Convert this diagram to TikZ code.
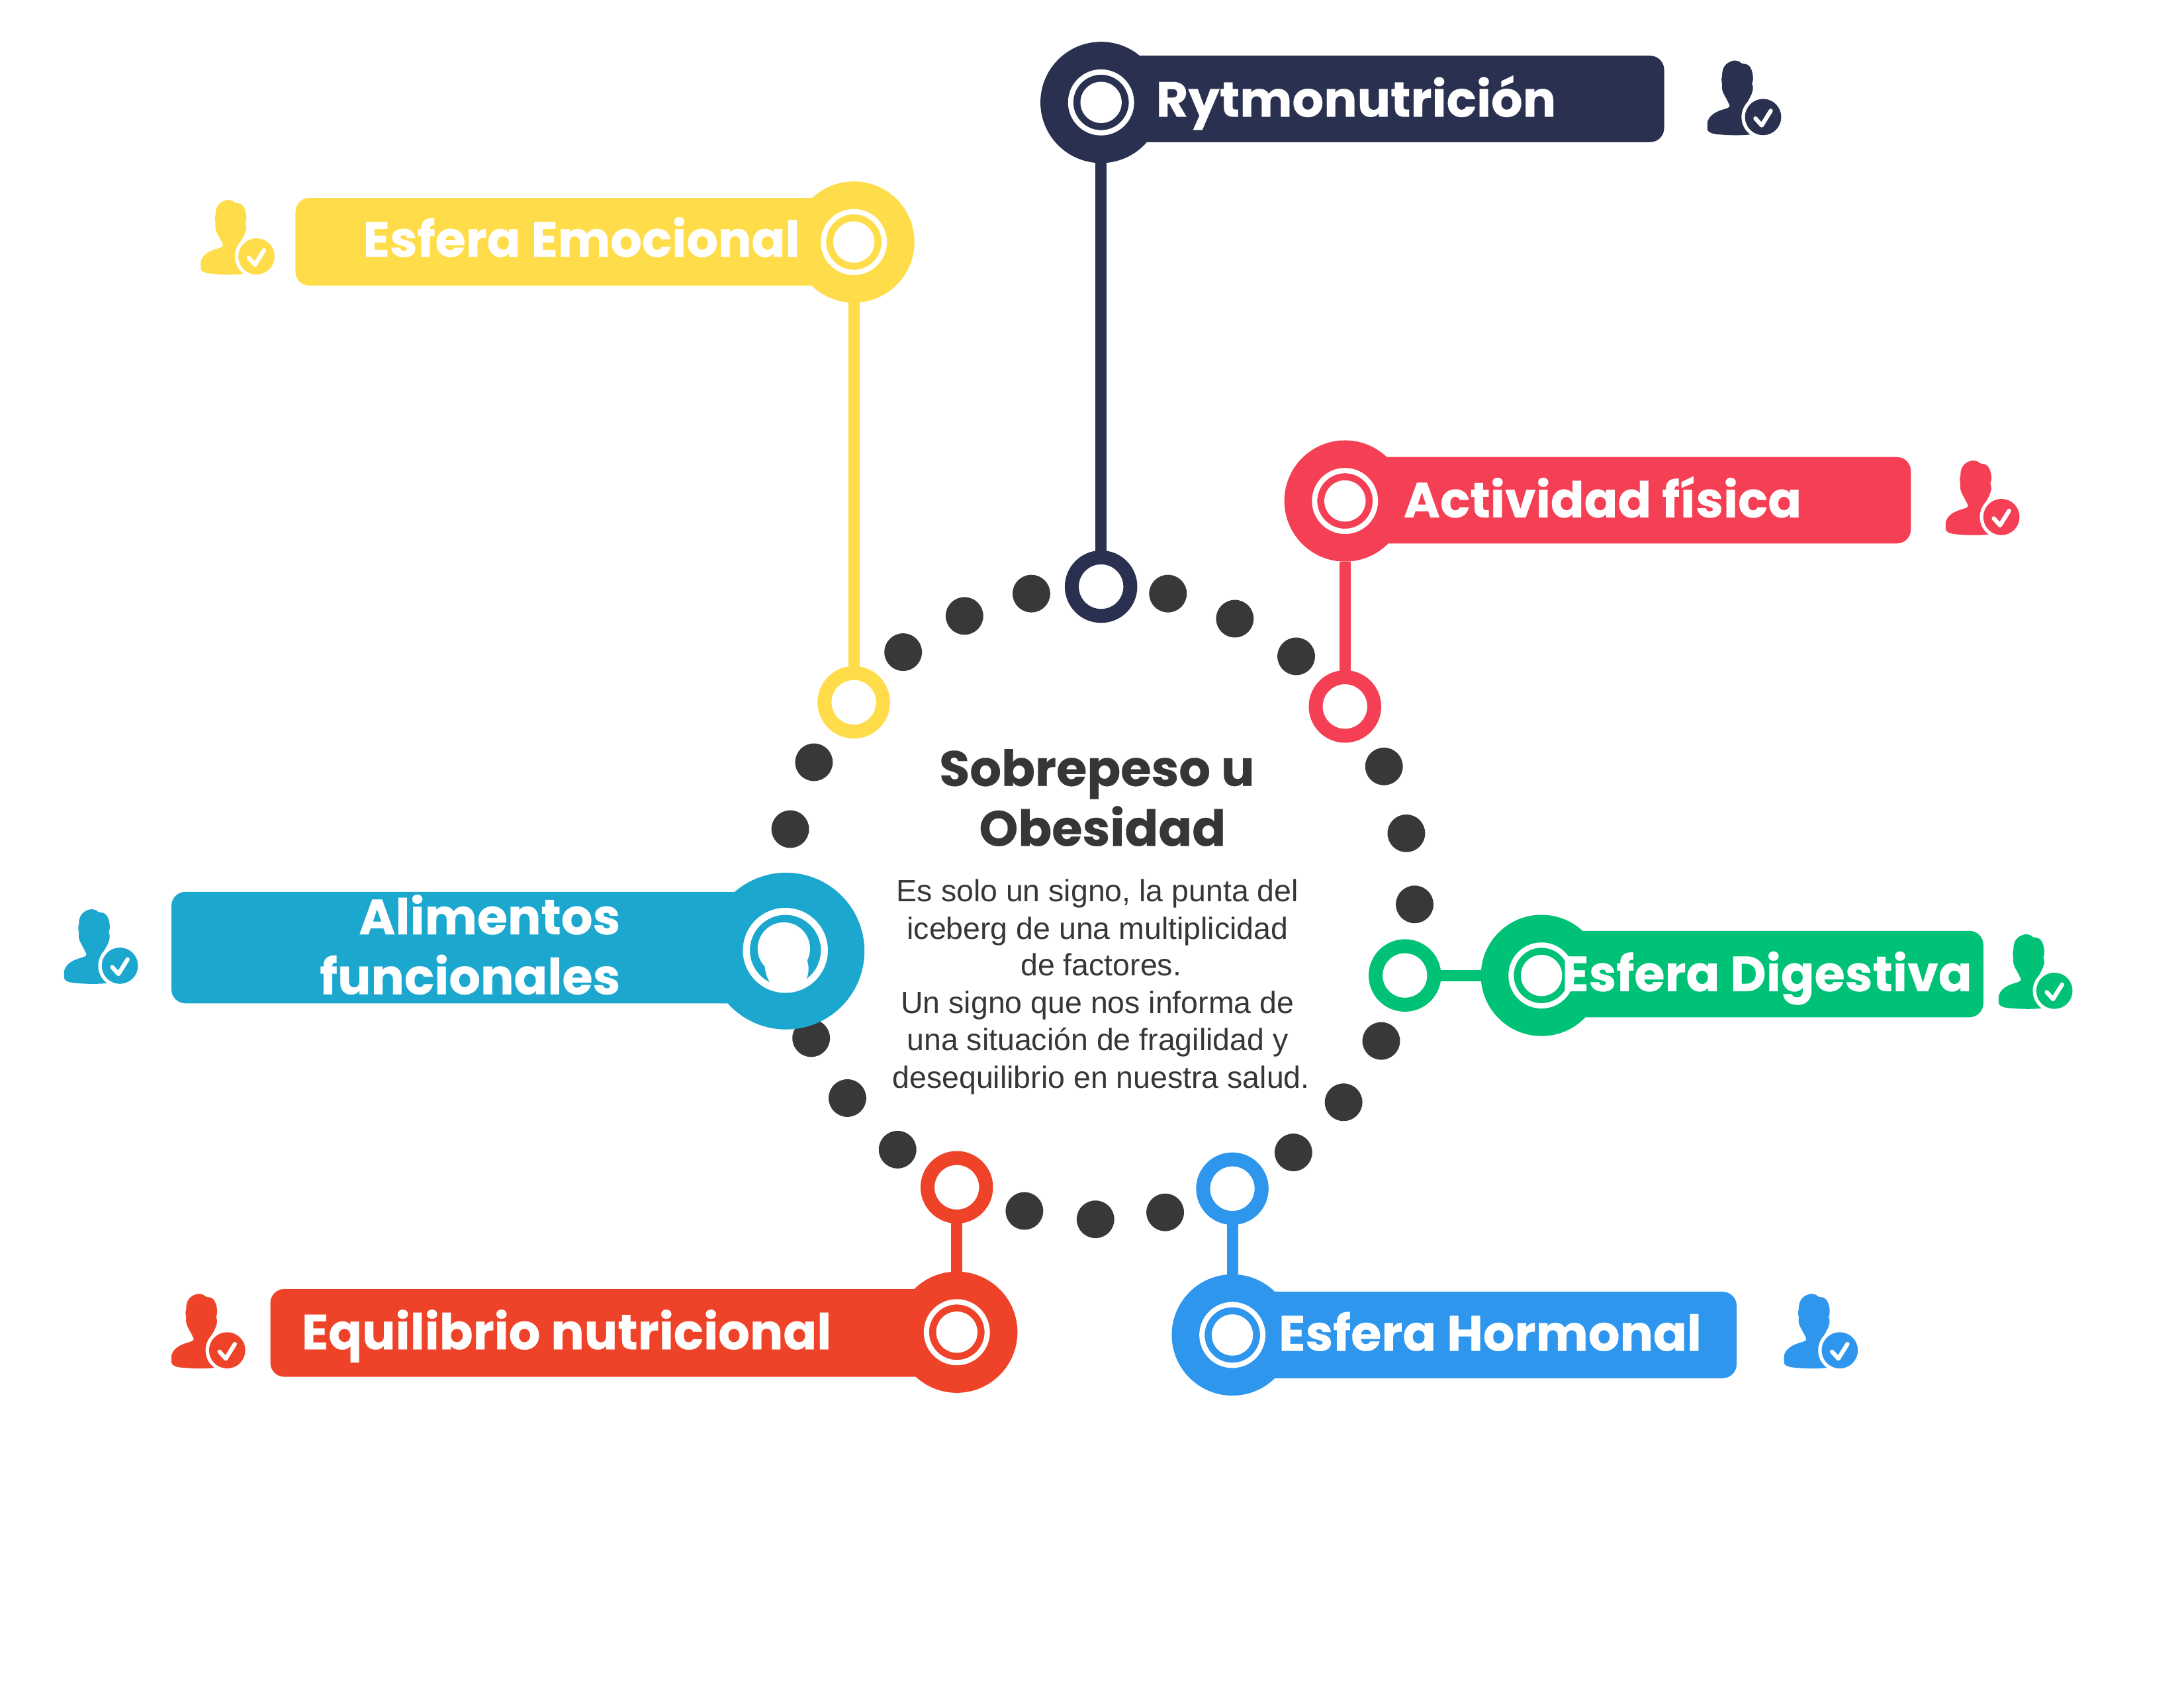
\documentclass[tikz,border=0pt]{standalone}
\usepackage{fontspec}
\setmainfont{Liberation Sans}
\newfontfamily\pop[BoldFeatures={FakeBold=0.25}]{Poppins}
\definecolor{navy}{HTML}{2A3150}
\definecolor{yel}{HTML}{FFDD4A}
\definecolor{pink}{HTML}{F43F54}
\definecolor{teal}{HTML}{1CA8CE}
\definecolor{grn}{HTML}{00C277}
\definecolor{redo}{HTML}{EE4328}
\definecolor{blu}{HTML}{2F96EE}
\definecolor{dotc}{HTML}{383838}
\definecolor{ink}{HTML}{363636}
\newdimen\uu \uu=0.50542pt
\tikzset{
  x=\uu,y=-\uu,
  dotn/.style={circle,fill=dotc,minimum size=27*\uu,inner sep=0,outer sep=0},
  ringn/.style={circle,draw=#1,fill=white,line width=10*\uu,minimum size=42*\uu,inner sep=0,outer sep=0},
  bign/.style={circle,fill=#1,minimum size=87*\uu,inner sep=0,outer sep=0},
  barn/.style={rectangle,fill=#1,rounded corners=10*\uu,inner sep=0,outer sep=0},
  halon/.style={circle,draw=white,line width=3.8*\uu,minimum size=43.6*\uu,inner sep=0,outer sep=0},
  coren/.style={circle,fill=white,minimum size=29.6*\uu,inner sep=0,outer sep=0},
  lab/.style={anchor=base west,text=white,inner sep=0,font=\pop\bfseries\fontsize{17.97pt}{22pt}\selectfont},
  labr/.style={anchor=base east,text=white,inner sep=0,font=\pop\bfseries\fontsize{17.97pt}{22pt}\selectfont},
  titlen/.style={anchor=base,text=ink,inner sep=0,font=\pop\bfseries\fontsize{18pt}{22pt}\selectfont},
  bodyn/.style={anchor=base,text=ink,inner sep=0,font=\fontsize{11.15pt}{13pt}\selectfont},
  stem/.style={draw=#1,line width=8*\uu},
  person/.pic={
    \fill[#1] (-23.4,-39.8) .. controls (-21,-41) and (-19,-40.5) .. (-17,-39.8)
       .. controls (-16,-38.5) and (-15,-38.4) .. (-14,-38.2)
       .. controls (-10,-38.2) and (-8,-35) .. (-7.3,-29.5)
       .. controls (-7,-27) and (-7.5,-25) .. (-8,-24)
       .. controls (-7.5,-22.5) and (-7,-21.5) .. (-7.3,-20)
       .. controls (-8,-16) and (-10,-13) .. (-11.5,-10.4)
       -- (0,0) -- (-9,12.5)
       .. controls (-15,13.3) and (-26,13.2) .. (-34.5,12.2)
       .. controls (-38,11.5) and (-40,10.5) .. (-40,8.5)
       -- (-40,3.8)
       .. controls (-39,0) and (-36,-3) .. (-30,-5)
       .. controls (-27,-6) and (-24,-6.5) .. (-24,-8)
       .. controls (-24,-9) and (-24.5,-9.5) .. (-25,-10.4)
       .. controls (-26,-13) and (-29,-17) .. (-29.4,-20)
       .. controls (-29.6,-21.5) and (-29.6,-22.5) .. (-29.4,-23.8)
       .. controls (-30,-26) and (-30,-28) .. (-29.4,-29.5)
       .. controls (-29.5,-34) and (-28,-38) .. (-23.4,-39.8) -- cycle;
    \fill[white] (0,0) circle [radius=15.5];
    \fill[#1] (0,0) circle [radius=13];
    \draw[white,line width=3*\uu,line cap=round,line join=round] (-5.5,1) -- (-1,6) -- (5.5,-4.5);
  },
  person/.default=navy
}
\begin{document}
\begin{tikzpicture}
\useasboundingbox (0,0) rectangle (1567,1211);
% dots
\foreach \i/\p in {1/{740,426},2/{838,426},3/{886,444},4/{930,471},5/{692,442},6/{648,468},7/{584,547},8/{567,595},9/{993,550},10/{1009,598},11/{1015,649},12/{991,747},13/{964,791},14/{928,827},15/{582,745},16/{608,788},17/{644,825},18/{735,869},19/{786,875},20/{836,870}}
  \node[dotn] (dot\i) at (\p) {};
% bars
\node[barn=navy,minimum width=404*\uu,minimum height=62*\uu] (barA) at (992,71) {};
\node[barn=yel,minimum width=401*\uu,minimum height=63*\uu] (barB) at (412.5,173.5) {};
\node[barn=pink,minimum width=406*\uu,minimum height=62*\uu] (barC) at (1168,359) {};
\node[barn=teal,minimum width=442*\uu,minimum height=80*\uu] (barD) at (344,680) {};
\node[barn=grn,minimum width=317*\uu,minimum height=62*\uu] (barE) at (1264.5,699) {};
\node[barn=redo,minimum width=492*\uu,minimum height=63*\uu] (barF) at (440,956.5) {};
\node[barn=blu,minimum width=361*\uu,minimum height=62*\uu] (barG) at (1065.5,958) {};
% big circles
\node[bign=navy] (bigA) at (790,73.5) {};
\node[bign=yel] (bigB) at (612.6,173.7) {};
\node[bign=pink] (bigC) at (965,359.5) {};
\node[bign=teal,minimum size=112.5*\uu] (bigD) at (564,682.5) {};
\node[bign=grn] (bigE) at (1106,700) {};
\node[bign=redo] (bigF) at (686.5,956) {};
\node[bign=blu] (bigG) at (884.2,958) {};
% rings
\node[ringn=navy] (ringA) at (790,421) {};
\node[ringn=yel] (ringB) at (612.6,504) {};
\node[ringn=pink] (ringC) at (965,507) {};
\node[ringn=grn] (ringE) at (1008,700) {};
\node[ringn=redo] (ringF) at (686.5,852) {};
\node[ringn=blu] (ringG) at (884.2,853) {};
% connectors
\draw[stem=navy] (bigA) -- (ringA);
\draw[stem=yel] (bigB) -- (ringB);
\draw[stem=pink] (bigC) -- (ringC);
\draw[stem=grn] (ringE) -- (bigE);
\draw[stem=redo] (ringF) -- (bigF);
\draw[stem=blu] (ringG) -- (bigG);
% inner marks
\foreach \n in {A,B,C,E,F,G}{
  \node[halon] (halo\n) at (big\n) {};
  \node[coren] (core\n) at (big\n) {};
}
\node[halon,minimum size=56*\uu,line width=5*\uu] (haloD) at (563.5,682) {};
\begin{scope}[shift={(563.5,682)}]
  \clip (0,0) circle [radius=28];
  \fill[white] (-1.1,-1.3) circle [radius=18.8];
  \fill[white] (-14.6,11) -- (15.8,6) -- (15.8,8.2) .. controls (17,11) and (17,17) .. (15,20.6)
     -- (13,32) -- (-9,32) -- (-11.4,22.5) .. controls (-13,20) and (-14,17) .. (-14.6,13) -- cycle;
\end{scope}
% labels
\node[lab] (tA) at (829,83.8) {Rytmonutrición};
\node[lab] (tB) at (260,184.3) {Esfera Emocional};
\node[lab] (tC) at (1006.7,371.3) {Actividad física};
\node[labr] (tD1) at (445.5,670.5) {Alimentos};
\node[labr] (tD2) at (445.5,713.5) {funcionales};
\node[lab] (tE) at (1120.3,711.3) {Esfera Digestiva};
\node[lab] (tF) at (216,968.3) {Equilibrio nutricional};
\node[lab] (tG) at (917,969.3) {Esfera Hormonal};
% icons
\pic at (1265,84) {person=navy};
\pic at (184,184) {person=yel};
\pic at (1436,371) {person=pink};
\pic at (86,693) {person=teal};
\pic at (1474,711) {person=grn};
\pic at (163,969) {person=redo};
\pic at (1320,969) {person=blu};
% centre text
\node[titlen] (title1) at (787,564) {Sobrepeso u};
\node[titlen] (title2) at (791,607) {Obesidad};
\node[bodyn] (b1) at (787.5,647) {Es solo un signo, la punta del};
\node[bodyn] (b2) at (787.5,674) {iceberg de una multiplicidad};
\node[bodyn] (b3) at (790,700) {de factores.};
\node[bodyn] (b4) at (787.5,727) {Un signo que nos informa de};
\node[bodyn] (b5) at (787.5,754) {una situación de fragilidad y};
\node[bodyn] (b6) at (790,781) {desequilibrio en nuestra salud.};
\end{tikzpicture}
\end{document}
